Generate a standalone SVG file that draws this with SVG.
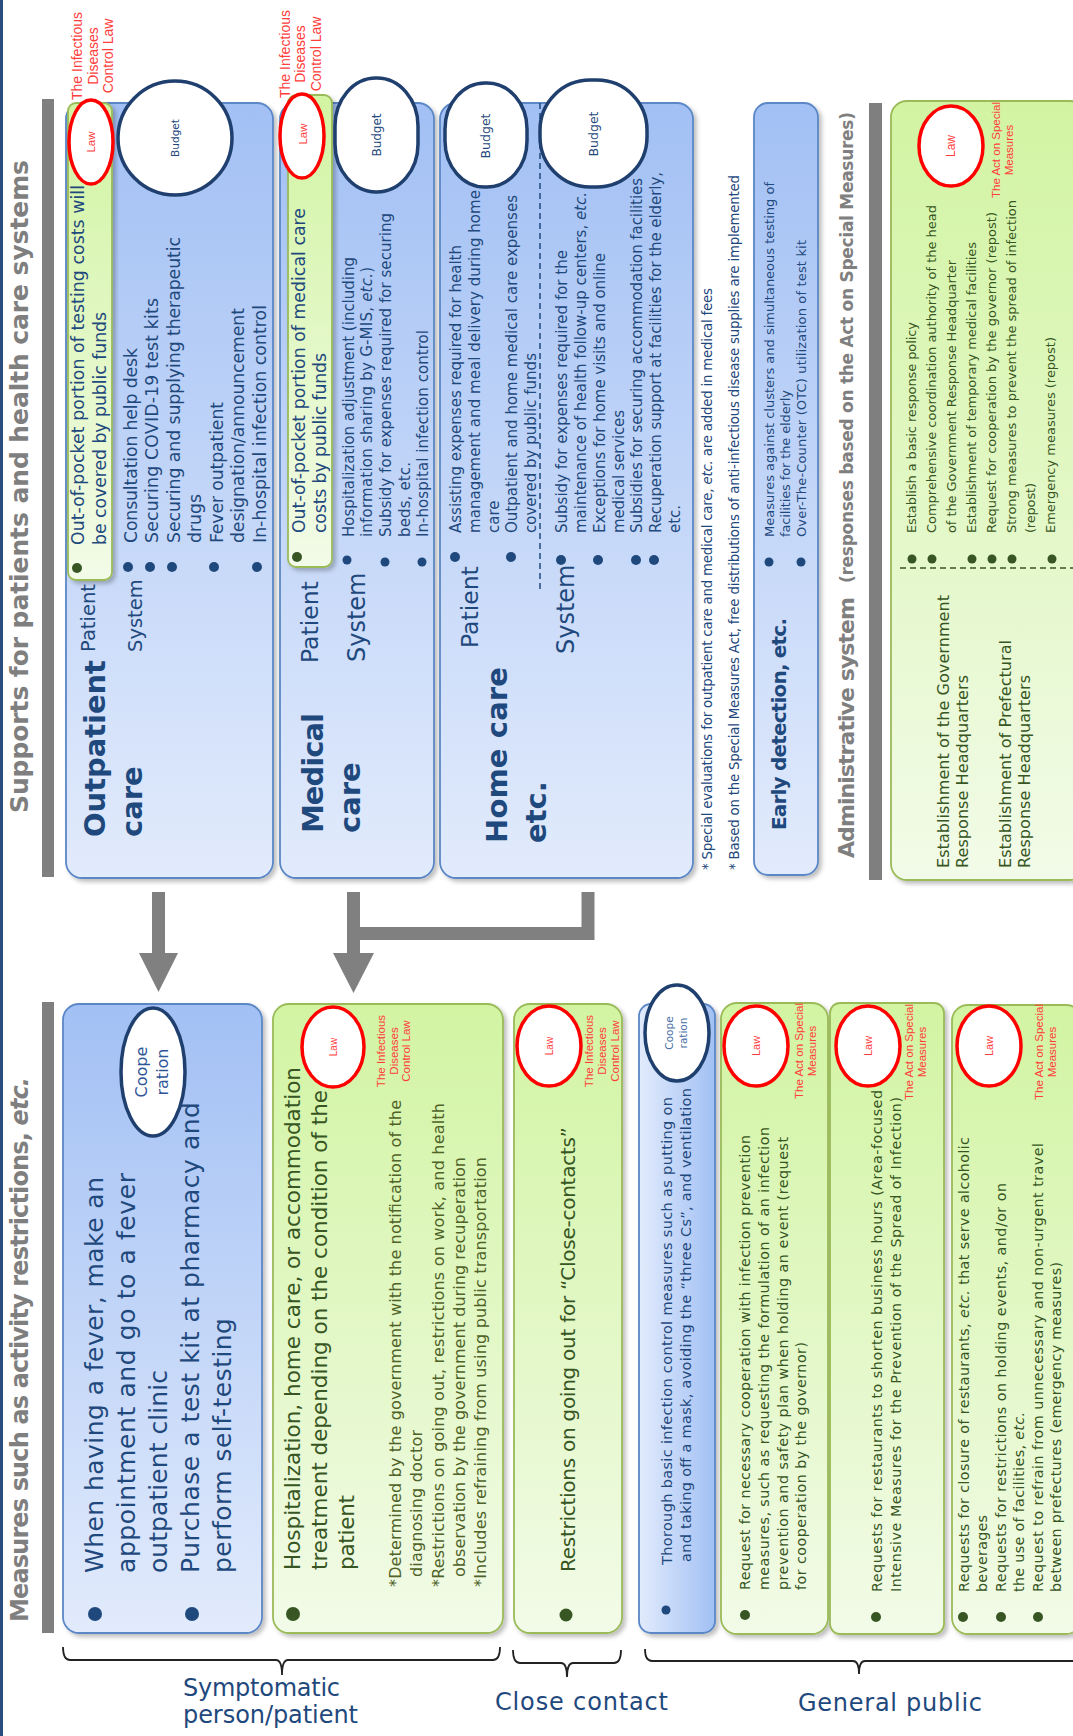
<svg xmlns="http://www.w3.org/2000/svg" width="1073" height="1736" viewBox="0 0 1073 1736">
<defs>
<style>
text{font-family:"DejaVu Sans",Verdana,sans-serif}
.b{font-weight:bold}
.bl{fill:#1f497d}
.gr{fill:#375623}
.ol{fill:#4f6228}
.gy{fill:#7f7f7f}
.rd{font-family:"Liberation Sans",Arial,sans-serif;fill:#ff3d3d}
.i{font-style:italic}
.bbox{fill:url(#gb);stroke:#5b87c6;stroke-width:1.8;filter:url(#sh)}
.gbox{fill:url(#gg);stroke:#9bbb59;stroke-width:1.8;filter:url(#sh)}
.law{fill:#fff;stroke:#ff0000;stroke-width:3.5}
.bud{fill:#fff;stroke:#1f3f6e;stroke-width:3.5}
.db{fill:#1f497d}
.dg{fill:#375623}
.brace{fill:none;stroke:#222;stroke-width:1.8}
</style>
<linearGradient id="gb" x1="0" y1="0" x2="0" y2="1"><stop offset="0" stop-color="#a2c0f4"/><stop offset="1" stop-color="#e2ebfc"/></linearGradient>
<linearGradient id="gg" x1="0" y1="0" x2="0" y2="1"><stop offset="0" stop-color="#d2f4a2"/><stop offset="1" stop-color="#f2fbe8"/></linearGradient>
<linearGradient id="gbh" x1="0" y1="0" x2="1" y2="0"><stop offset="0" stop-color="#e2ebfc"/><stop offset="1" stop-color="#a2c0f4"/></linearGradient>
<filter id="sh" x="-10%" y="-5%" width="125%" height="115%"><feDropShadow dx="3" dy="3" stdDeviation="2" flood-color="#000" flood-opacity="0.25"/></filter>
</defs>
<rect x="0" y="0" width="1073" height="1736" fill="#fff"/>
<rect x="0" y="0" width="3" height="1736" fill="#2b4c7e"/>

<g id="titles">
<rect x="42" y="99" width="12" height="778" fill="#7f7f7f"/>
<rect x="42" y="1002" width="12" height="631" fill="#7f7f7f"/>
<rect x="869" y="103" width="13" height="777" fill="#7f7f7f"/>
<g transform="translate(0,1736) rotate(-90)">
<text class="b gy" font-size="25" x="923" y="28" textLength="653">Supports for patients and health care systems</text>
<text class="b gy" font-size="24" x="114" y="28" textLength="545">Measures such as activity restrictions, <tspan class="i">etc.</tspan></text>
<text class="b gy" font-size="22" x="878" y="854" textLength="261">Administrative system</text>
<text class="b gy" font-size="17" x="1153" y="853" textLength="471">(responses based on the Act on Special Measures)</text>
</g>
</g>

<g id="outpatient">
<rect class="bbox" x="66" y="103" width="207" height="775" rx="16"/>
<rect class="gbox" x="68" y="103" width="44" height="477" rx="8"/>
<ellipse class="law" cx="91" cy="142" rx="22" ry="42"/>
<circle class="bud" cx="175" cy="138" r="57"/>
<circle class="dg" cx="77" cy="568" r="5"/>
<circle class="db" cx="128" cy="567" r="5"/>
<circle class="db" cx="150" cy="567" r="5"/>
<circle class="db" cx="172" cy="567" r="5"/>
<circle class="db" cx="214" cy="567" r="5"/>
<circle class="db" cx="257" cy="567" r="5"/>
<g transform="translate(0,1736) rotate(-90)">
<text class="rd" font-size="14" text-anchor="middle"><tspan x="1680" y="82">The Infectious</tspan><tspan x="1680" y="97.5">Diseases</tspan><tspan x="1680" y="113">Control Law</tspan></text>
<text class="rd" font-size="11.5" text-anchor="middle" x="1594" y="95">Law</text>
<text class="bl" font-size="10.5" text-anchor="middle" x="1598" y="179">Budget</text>
<text class="b bl" font-size="29" x="899" y="105" textLength="177">Outpatient</text>
<text class="b bl" font-size="29" x="899" y="142">care</text>
<text class="bl" font-size="19.5" x="1084" y="95">Patient</text>
<text class="bl" font-size="19.5" x="1084" y="142">System</text>
<g class="bl" font-size="17.3">
<text x="1191" y="84" textLength="360">Out-of-pocket portion of testing costs will</text>
<text x="1191" y="106" textLength="233">be covered by public funds</text>
<text x="1193" y="136.5" textLength="195">Consultation help desk</text>
<text x="1193" y="158" textLength="245">Securing COVID-19 test kits</text>
<text x="1193" y="179.5" textLength="306">Securing and supplying therapeutic</text>
<text x="1193" y="201">drugs</text>
<text x="1193" y="222.5" textLength="141">Fever outpatient</text>
<text x="1193" y="244" textLength="235">designation/announcement</text>
<text x="1193" y="265.5" textLength="238">In-hospital infection control</text>
</g>
</g>
</g>

<g id="medical">
<rect class="bbox" x="280" y="103" width="154" height="775" rx="16"/>
<rect class="gbox" x="288" y="95" width="44" height="472" rx="8"/>
<ellipse class="law" cx="302" cy="136" rx="22" ry="42"/>
<rect class="bud" x="335" y="78" width="83" height="114" rx="41" ry="48"/>
<circle class="dg" cx="297" cy="557" r="5"/>
<circle class="db" cx="347" cy="560" r="4.5"/>
<circle class="db" cx="385" cy="562" r="4.5"/>
<circle class="db" cx="422" cy="562" r="4.5"/>
<g transform="translate(0,1736) rotate(-90)">
<text class="rd" font-size="14" text-anchor="middle"><tspan x="1682" y="289.5">The Infectious</tspan><tspan x="1682" y="305">Diseases</tspan><tspan x="1682" y="321">Control Law</tspan></text>
<text class="rd" font-size="11.5" text-anchor="middle" x="1602" y="307">Law</text>
<text class="bl" font-size="12" text-anchor="middle" x="1601" y="381">Budget</text>
<text class="b bl" font-size="29" x="903" y="323" textLength="120">Medical</text>
<text class="b bl" font-size="29" x="903" y="360">care</text>
<text class="bl" font-size="23.5" x="1073" y="318">Patient</text>
<text class="bl" font-size="24" x="1074" y="365">System</text>
<g class="bl">
<text font-size="17.3" x="1203" y="305" textLength="325">Out-of-pocket portion of medical care</text>
<text font-size="17.3" x="1203" y="325.5" textLength="180">costs by public funds</text>
<text font-size="15" x="1199" y="353.5" textLength="280">Hospitalization adjustment (including</text>
<text font-size="15" x="1199" y="372" textLength="270">information sharing by G-MIS, <tspan class="i">etc.</tspan>)</text>
<text font-size="15" x="1199" y="391" textLength="324">Subsidy for expenses required for securing</text>
<text font-size="15" x="1199" y="409.5" textLength="75">beds, etc.</text>
<text font-size="15" x="1199" y="428" textLength="207">In-hospital infection control</text>
</g>
</g>
</g>

<g id="homecare">
<rect class="bbox" x="440" y="103" width="253" height="775" rx="16"/>
<line x1="540" y1="103" x2="540" y2="592" stroke="#1f497d" stroke-width="1.5" stroke-dasharray="6 4"/>
<rect class="bud" x="445" y="83" width="82" height="104" rx="40" ry="46"/>
<rect class="bud" x="540" y="80" width="107" height="107" rx="50" ry="50"/>
<circle class="db" cx="455" cy="557" r="5"/>
<circle class="db" cx="511" cy="557" r="5"/>
<circle class="db" cx="561" cy="560" r="5"/>
<circle class="db" cx="598" cy="560" r="5"/>
<circle class="db" cx="636" cy="560" r="5"/>
<circle class="db" cx="654" cy="560" r="5"/>
<g transform="translate(0,1736) rotate(-90)">
<text class="bl" font-size="12.5" text-anchor="middle" x="1600" y="490">Budget</text>
<text class="bl" font-size="12.5" text-anchor="middle" x="1602" y="598">Budget</text>
<text class="b bl" font-size="29" x="893" y="507" textLength="176">Home care</text>
<text class="b bl" font-size="29" x="893" y="546">etc.</text>
<text class="bl" font-size="23.5" x="1088" y="478">Patient</text>
<text class="bl" font-size="24" x="1082" y="574">System</text>
<g class="bl" font-size="15">
<text x="1203" y="461" textLength="288">Assisting expenses required for health</text>
<text x="1203" y="480" textLength="343">management and meal delivery during home</text>
<text x="1203" y="498.5">care</text>
<text x="1203" y="517" textLength="338">Outpatient and home medical care expenses</text>
<text x="1203" y="536" textLength="180">covered by public funds</text>
<text x="1203" y="567" textLength="283">Subsidy for expenses required for the</text>
<text x="1203" y="586" textLength="341">maintenance of health follow-up centers, <tspan class="i">etc.</tspan></text>
<text x="1203" y="605" textLength="280">Exceptions for home visits and online</text>
<text x="1203" y="624" textLength="123">medical services</text>
<text x="1203" y="642" textLength="355">Subsidies for securing accommodation facilities</text>
<text x="1203" y="661" textLength="361">Recuperation support at facilities for the elderly,</text>
<text x="1203" y="680">etc.</text>
</g>
</g>
</g>

<g id="footnotes">
<g transform="translate(0,1736) rotate(-90)">
<text class="bl" font-size="13.3" x="866" y="712" textLength="582">* Special evaluations for outpatient care and medical care, <tspan class="i">etc.</tspan> are added in medical fees</text>
<text class="bl" font-size="13.3" x="866" y="739" textLength="695">* Based on the Special Measures Act, free distributions of anti-infectious disease supplies are implemented</text>
</g>
</g>

<g id="early-detection">
<rect class="bbox" x="754" y="103" width="64" height="772" rx="14"/>
<circle class="db" cx="769" cy="562" r="4.5"/>
<circle class="db" cx="801" cy="562" r="4.5"/>
<g transform="translate(0,1736) rotate(-90)">
<text class="b bl" font-size="20" x="906" y="786" textLength="212">Early detection, etc.</text>
<g class="bl" font-size="13">
<text x="1199" y="774" textLength="355">Measures against clusters and simultaneous testing of</text>
<text x="1199" y="790" textLength="147">facilities for the elderly</text>
<text x="1199" y="806" textLength="297">Over-The-Counter (OTC) utilization of test kit</text>
</g>
</g>
</g>

<g id="administrative">
<rect class="gbox" x="891" y="101" width="195" height="779" rx="16"/>
<ellipse class="law" cx="951" cy="146" rx="32" ry="40"/>
<line x1="900" y1="568" x2="1073" y2="568" stroke="#375623" stroke-width="1.5" stroke-dasharray="6 4"/>
<circle class="dg" cx="912" cy="559" r="4.5"/>
<circle class="dg" cx="932" cy="559" r="4.5"/>
<circle class="dg" cx="972" cy="559" r="4.5"/>
<circle class="dg" cx="992" cy="559" r="4.5"/>
<circle class="dg" cx="1012" cy="559" r="4.5"/>
<circle class="dg" cx="1052" cy="559" r="4.5"/>
<g transform="translate(0,1736) rotate(-90)">
<text class="rd" font-size="11.5" text-anchor="middle"><tspan x="1586" y="1000">The Act on Special</tspan><tspan x="1586" y="1013">Measures</tspan></text>
<text class="rd" font-size="12" text-anchor="middle" x="1590" y="955">Law</text>
<g class="gr" font-size="16">
<text x="868" y="949" textLength="273">Establishment of the Government</text>
<text x="868" y="968" textLength="193">Response Headquarters</text>
<text x="868" y="1011" textLength="228">Establishment of Prefectural</text>
<text x="868" y="1030" textLength="193">Response Headquarters</text>
</g>
<g class="gr" font-size="13">
<text x="1203" y="916" textLength="211">Establish a basic response policy</text>
<text x="1203" y="936" textLength="328">Comprehensive coordination authority of the head</text>
<text x="1203" y="956" textLength="273">of the Government Response Headquarter</text>
<text x="1203" y="976" textLength="291">Establishment of temporary medical facilities</text>
<text x="1203" y="996" textLength="321">Request for cooperation by the governor (repost)</text>
<text x="1203" y="1016" textLength="333">Strong measures to prevent the spread of infection</text>
<text x="1203" y="1035" textLength="50">(repost)</text>
<text x="1203" y="1055" textLength="196">Emergency measures (repost)</text>
</g>
</g>
</g>

<g id="symptomatic">
<rect class="bbox" x="63" y="1004" width="199" height="629" rx="16"/>
<ellipse class="bud" cx="153" cy="1072" rx="32" ry="64" stroke-width="3"/>
<circle class="db" cx="95" cy="1614" r="7"/>
<circle class="db" cx="192" cy="1614" r="7"/>
<g transform="translate(0,1736) rotate(-90)">
<text font-size="16" fill="#2f5597" text-anchor="middle"><tspan x="664" y="146.5">Coope</tspan><tspan x="664" y="168">ration</tspan></text>
<g class="bl" font-size="25">
<text x="163" y="103" textLength="396">When having a fever, make an</text>
<text x="163" y="135" textLength="400">appointment and go to a fever</text>
<text x="163" y="167" textLength="203">outpatient clinic</text>
<text x="163" y="199" textLength="471">Purchase a test kit at pharmacy and</text>
<text x="163" y="231" textLength="255">perform self-testing</text>
</g>
</g>
</g>

<g id="hospitalization">
<rect class="gbox" x="273" y="1004" width="230" height="629" rx="16"/>
<ellipse class="law" cx="333" cy="1047" rx="31" ry="40"/>
<circle class="dg" cx="293" cy="1614" r="7"/>
<g transform="translate(0,1736) rotate(-90)">
<text class="rd" font-size="11.5" text-anchor="middle"><tspan x="685" y="385">The Infectious</tspan><tspan x="685" y="397.5">Diseases</tspan><tspan x="685" y="410">Control Law</tspan></text>
<text class="rd" font-size="10" text-anchor="middle" x="689" y="337">Law</text>
<g class="gr" font-size="21.5">
<text x="166" y="300" textLength="503">Hospitalization, home care, or accommodation</text>
<text x="166" y="327" textLength="480">treatment depending on the condition of the</text>
<text x="166" y="354" textLength="75">patient</text>
</g>
<g class="ol" font-size="16">
<text x="149" y="401" textLength="487">*Determined by the government with the notification of the</text>
<text x="159" y="422" textLength="147">diagnosing doctor</text>
<text x="149" y="444" textLength="484">*Restrictions on going out, restrictions on work, and health</text>
<text x="159" y="465" textLength="420">observation by the government during recuperation</text>
<text x="149" y="486" textLength="430">*Includes refraining from using public transportation</text>
</g>
</g>
</g>

<g id="close-contact">
<rect class="gbox" x="514" y="1004" width="108" height="629" rx="16"/>
<ellipse class="law" cx="549" cy="1046" rx="32" ry="40"/>
<circle class="dg" cx="566" cy="1615" r="6.5"/>
<g transform="translate(0,1736) rotate(-90)">
<text class="rd" font-size="11.5" text-anchor="middle"><tspan x="685" y="593">The Infectious</tspan><tspan x="685" y="606">Diseases</tspan><tspan x="685" y="618.5">Control Law</tspan></text>
<text class="rd" font-size="10" text-anchor="middle" x="690" y="553">Law</text>
<text class="gr" font-size="20" x="164" y="575" textLength="445">Restrictions on going out for “Close-contacts”</text>
</g>
</g>

<g id="basic-infection-control">
<rect x="639" y="1004" width="76" height="629" rx="12" fill="url(#gbh)" stroke="#5b87c6" stroke-width="1.8" filter="url(#sh)"/>
<ellipse class="bud" cx="677" cy="1033" rx="32" ry="48" stroke-width="3"/>
<circle class="db" cx="666" cy="1610" r="4.5"/>
<g transform="translate(0,1736) rotate(-90)">
<text font-size="10.5" fill="#4a6fa5" text-anchor="middle"><tspan x="703" y="673">Coope</tspan><tspan x="703" y="687">ration</tspan></text>
<g class="bl" font-size="14.5">
<text x="171" y="671.5" textLength="468">Thorough basic infection control measures such as putting on</text>
<text x="174" y="691" textLength="474">and taking off a mask, avoiding the “three Cs”, and ventilation</text>
</g>
</g>
</g>

<g id="event-request">
<rect class="gbox" x="721" y="1003" width="107" height="631" rx="16"/>
<ellipse class="law" cx="756" cy="1046" rx="32" ry="40"/>
<circle class="dg" cx="745" cy="1615" r="5"/>
<g transform="translate(0,1736) rotate(-90)">
<text class="rd" font-size="11.5" text-anchor="middle"><tspan x="685" y="803">The Act on Special</tspan><tspan x="685" y="816">Measures</tspan></text>
<text class="rd" font-size="11" text-anchor="middle" x="690" y="760">Law</text>
<g class="gr" font-size="14.3">
<text x="146" y="750" textLength="455">Request for necessary cooperation with infection prevention</text>
<text x="146" y="769" textLength="463">measures, such as requesting the formulation of an infection</text>
<text x="146" y="788" textLength="453">prevention and safety plan when holding an event (request</text>
<text x="146" y="806" textLength="248">for cooperation by the governor)</text>
</g>
</g>
</g>

<g id="business-hours">
<rect class="gbox" x="830" y="1003" width="114" height="631" rx="10"/>
<ellipse class="law" cx="868" cy="1046" rx="32" ry="40"/>
<circle class="dg" cx="876" cy="1617" r="5"/>
<g transform="translate(0,1736) rotate(-90)">
<text class="rd" font-size="11.5" text-anchor="middle"><tspan x="684" y="913">The Act on Special</tspan><tspan x="684" y="926">Measures</tspan></text>
<text class="rd" font-size="11" text-anchor="middle" x="690" y="872">Law</text>
<g class="gr" font-size="14.3">
<text x="144" y="882" textLength="502">Requests for restaurants to shorten business hours (Area-focused</text>
<text x="144" y="901" textLength="495">Intensive Measures for the Prevention of the Spread of Infection)</text>
</g>
</g>
</g>

<g id="emergency-measures">
<rect class="gbox" x="952" y="1005" width="130" height="629" rx="16"/>
<ellipse class="law" cx="989" cy="1046" rx="32" ry="40"/>
<circle class="dg" cx="963" cy="1617" r="5"/>
<circle class="dg" cx="1001" cy="1617" r="5"/>
<circle class="dg" cx="1038" cy="1617" r="5"/>
<g transform="translate(0,1736) rotate(-90)">
<text class="rd" font-size="11.5" text-anchor="middle"><tspan x="684" y="1043">The Act on Special</tspan><tspan x="684" y="1056">Measures</tspan></text>
<text class="rd" font-size="11" text-anchor="middle" x="690" y="993">Law</text>
<g class="gr" font-size="14.3">
<text x="144" y="969" textLength="455">Requests for closure of restaurants, <tspan class="i">etc.</tspan> that serve alcoholic</text>
<text x="144" y="987" textLength="77">beverages</text>
<text x="144" y="1006" textLength="409">Requests for restrictions on holding events, and/or on</text>
<text x="144" y="1024" textLength="180">the use of facilities, <tspan class="i">etc.</tspan></text>
<text x="144" y="1043" textLength="449">Request to refrain from unnecessary and non-urgent travel</text>
<text x="144" y="1061" textLength="330">between prefectures (emergency measures)</text>
</g>
</g>
</g>

<g id="connectors">
<polygon points="152,892 165,892 165,953 178,953 158.5,992 139,953 152,953" fill="#808080"/>
<polygon points="347,892 360,892 360,953 374,953 353.5,993 333,953 347,953" fill="#808080"/>
<path d="M588,892 V933.5 H350" fill="none" stroke="#808080" stroke-width="13"/>
<path class="brace" d="M63,1647 Q63,1660 70,1660 H276 Q282,1660 282,1675 Q282,1660 288,1660 H493 Q500,1660 500,1647"/>
<path class="brace" d="M513,1650 Q513,1663 520,1663 H561 Q567,1663 567,1677 Q567,1663 573,1663 H614 Q621,1663 621,1650"/>
<path class="brace" d="M645,1649 Q645,1661 652,1661 H853 Q859,1661 859,1674 Q859,1661 865,1661 H1080"/>
</g>

<g id="group-labels" class="bl" font-size="24">
<text x="183" y="1696" textLength="157">Symptomatic</text>
<text x="183" y="1723" textLength="175">person/patient</text>
<text x="495" y="1710" textLength="173">Close contact</text>
<text x="798" y="1711" textLength="184">General public</text>
</g>
</svg>
